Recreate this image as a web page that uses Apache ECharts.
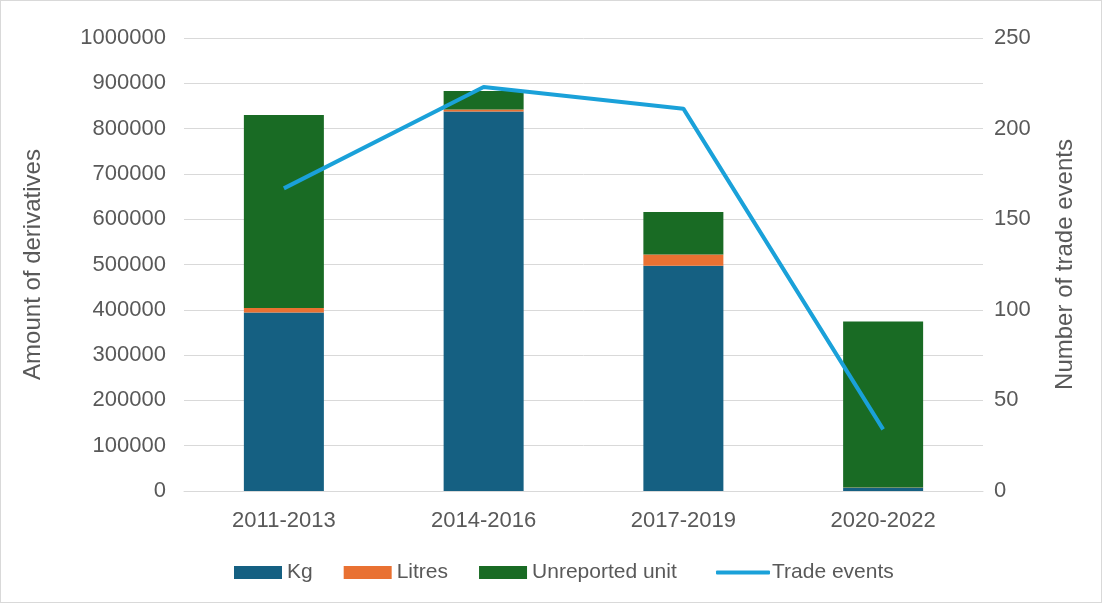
<!DOCTYPE html>
<html><head><meta charset="utf-8">
<script src="https://cdn.jsdelivr.net/npm/echarts@6/dist/echarts.min.js"></script>
<style>html,body{margin:0;padding:0;background:#fff}#c{width:1102px;height:603px;box-sizing:border-box;border:1px solid #d9d9d9}</style>
</head><body><div id="c"></div>
<script>
const categories = ['2011-2013','2014-2016','2017-2019','2020-2022'];
const kg = [394000, 838000, 497000, 7000];
const litres = [10000, 4000, 25000, 1000];
const unreported = [426000, 41000, 94000, 366000];
const tradeEvents = [167, 223, 211, 34];
const leftTicks = [0, 1000000, 100000];
const rightTicks = [0, 250, 50];

const chart = echarts.init(document.getElementById('c'));
const font = 'Liberation Sans';
const txt = '#595959';
chart.setOption({
  animation: false,
  textStyle: {fontFamily: font},
  grid: {left: 183, right: 118, top: 37, bottom: 111, containLabel: false},
  legend: [{
    top: 556, left: 228, itemWidth: 48, itemHeight: 13, itemGap: 31,
    textStyle: {fontSize: 21, color: txt, fontFamily: font},
    data: [{name:'Kg', icon:'rect'},{name:'Litres', icon:'rect'},{name:'Unreported unit', icon:'rect'}]
  },{
    top: 556, left: 710, itemWidth: 54, itemHeight: 4,
    textStyle: {fontSize: 21, color: txt, fontFamily: font, padding: [0,0,0,-3]},
    data: [{name:'Trade events', icon:'roundRect'}]
  }],
  xAxis: {
    type: 'category', data: categories,
    axisLine: {lineStyle: {color: '#d9d9d9'}}, axisTick: {show: false},
    axisLabel: {fontSize: 22, color: txt, margin: 19}
  },
  yAxis: [{
    type: 'value', min: leftTicks[0], max: leftTicks[1], interval: leftTicks[2],
    name: 'Amount of derivatives', nameLocation: 'middle', nameGap: 139, nameRotate: 90,
    nameTextStyle: {fontSize: 24, color: txt},
    axisLabel: {fontSize: 22, color: txt, margin: 18, formatter: v => String(v)},
    splitLine: {lineStyle: {color: '#d9d9d9'}}
  },{
    type: 'value', min: rightTicks[0], max: rightTicks[1], interval: rightTicks[2],
    name: 'Number of trade events', nameLocation: 'middle', nameGap: 70, nameRotate: 90,
    nameTextStyle: {fontSize: 24, color: txt},
    axisLabel: {fontSize: 22, color: txt, margin: 11},
    splitLine: {show: false}
  }],
  series: [
    {name: 'Kg', type: 'bar', stack: 'a', data: kg, barWidth: 80, itemStyle: {color: '#156082'}},
    {name: 'Litres', type: 'bar', stack: 'a', data: litres, itemStyle: {color: '#e97132'}},
    {name: 'Unreported unit', type: 'bar', stack: 'a', data: unreported, itemStyle: {color: '#196b24'}},
    {name: 'Trade events', type: 'line', yAxisIndex: 1, data: tradeEvents, symbol: 'none',
     lineStyle: {color: '#1aa1d9', width: 4}, itemStyle: {color: '#1aa1d9'}}
  ]
});
</script></body></html>
